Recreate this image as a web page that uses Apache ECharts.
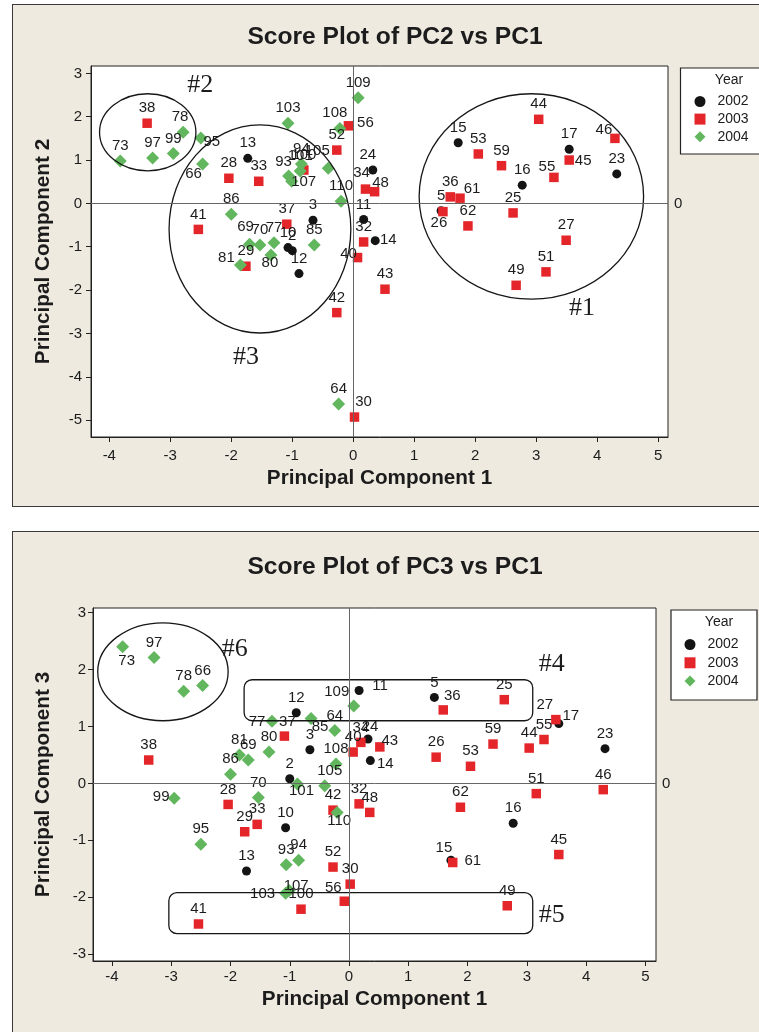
<!DOCTYPE html>
<html>
<head>
<meta charset="utf-8">
<script src="https://cdn.jsdelivr.net/npm/echarts@6/dist/echarts.min.js"></script>
<style>
html, body { margin: 0; padding: 0; background: #fff; }
#wrap { position: relative; width: 759px; height: 1032px; overflow: hidden; }
.panel { position: absolute; left: 12px; width: 760px; background: #eeeae0; border: 1.3px solid #3a3a3a; box-sizing: border-box; }
#main { position: absolute; left: 0; top: 0; width: 759px; height: 1032px; }
</style>
</head>
<body>
<div id="wrap">
  <div class="panel" style="top:4px; height:503px;"></div>
  <div class="panel" style="top:531px; height:520px;"></div>
  <div id="main"></div>
</div>
<script>
// scores per year: observation id, PC1, PC2, PC3
const ids2002 = [2, 3, 5, 10, 11, 12, 13, 14, 15, 16, 17, 23, 24];
const pc1_2002 = [-1.00, -0.66, 1.44, -1.07, 0.17, -0.89, -1.73, 0.36, 1.72, 2.77, 3.54, 4.32, 0.32];
const pc2_2002 = [-1.09, -0.39, -0.17, -1.02, -0.37, -1.62, 1.04, -0.86, 1.40, 0.42, 1.25, 0.68, 0.77];
const pc3_2002 = [0.08, 0.59, 1.51, -0.78, 1.63, 1.24, -1.54, 0.40, -1.35, -0.70, 1.05, 0.61, 0.78];

const ids2003 = [25, 26, 27, 28, 29, 30, 32, 33, 34, 36, 37, 38, 40, 41, 42, 43, 44, 45, 46, 48, 49, 51, 52, 53, 55, 56, 59, 61, 62, 100];
const pc1_2003 = [2.62, 1.47, 3.49, -2.04, -1.76, 0.02, 0.17, -1.55, 0.20, 1.59, -1.09, -3.38, 0.07, -2.54, -0.27, 0.52, 3.04, 3.54, 4.29, 0.35, 2.67, 3.16, -0.27, 2.05, 3.29, -0.08, 2.43, 1.75, 1.88, -0.81];
const pc2_2003 = [-0.22, -0.19, -0.85, 0.58, -1.45, -4.93, -0.89, 0.51, 0.33, 0.15, -0.48, 1.85, -1.25, -0.60, -2.52, -1.98, 1.94, 1.00, 1.50, 0.27, -1.89, -1.58, 1.23, 1.14, 0.60, 1.79, 0.87, 0.12, -0.52, 0.77];
const pc3_2003 = [1.47, 0.46, 1.12, -0.37, -0.85, -1.77, -0.36, -0.72, 0.72, 1.29, 0.83, 0.41, 0.55, -2.47, -0.47, 0.64, 0.62, -1.25, -0.11, -0.51, -2.15, -0.18, -1.47, 0.30, 0.77, -2.07, 0.69, -1.39, -0.42, -2.21];

const ids2004 = [64, 66, 69, 70, 73, 77, 78, 80, 81, 85, 86, 93, 94, 95, 97, 99, 101, 103, 105, 107, 108, 109, 110];
const pc1_2004 = [-0.24, -2.47, -1.70, -1.53, -3.82, -1.30, -2.79, -1.35, -1.85, -0.64, -2.00, -1.06, -0.85, -2.50, -3.29, -2.95, -0.87, -1.07, -0.41, -1.01, -0.22, 0.08, -0.20];
const pc2_2004 = [-4.63, 0.91, -0.94, -0.96, 0.98, -0.91, 1.64, -1.19, -1.42, -0.96, -0.25, 0.63, 0.91, 1.51, 1.05, 1.15, 0.75, 1.85, 0.81, 0.51, 1.73, 2.44, 0.05];
const pc3_2004 = [0.93, 1.72, 0.41, -0.25, 2.40, 1.09, 1.62, 0.55, 0.50, 1.14, 0.16, -1.43, -1.35, -1.07, 2.21, -0.26, -0.01, -1.93, -0.04, -1.88, 0.34, 1.36, -0.51];

const years = ['2002', '2003', '2004'];
const tickValuesX = [-4, -3, -2, -1, 0, 1, 2, 3, 4, 5];
const tickValuesPC2 = [-5, -4, -3, -2, -1, 0, 1, 2, 3];
const tickValuesPC3 = [-3, -2, -1, 0, 1, 2, 3];

// circled / boxed groups drawn over the plots, in data units
const ellipsesPC2 = [[-3.37, 1.64, 0.79, 0.89], [-1.53, -0.59, 1.49, 2.40], [2.92, 0.16, 1.84, 2.37]];
const tagTextPC2 = ['#2', '#3', '#1'];
const tagPosPC2 = [[-2.51, 2.73], [-1.76, -3.55], [3.75, -2.42]];
const ellipsesPC3 = [[-3.14, 1.96, 1.10, 0.86]];
const boxesPC3 = [[-1.77, 1.82, 3.10, 1.10], [-3.04, -1.92, 3.10, -2.64]];
const tagTextPC3 = ['#4', '#5', '#6'];
const tagPosPC3 = [[3.42, 2.09], [3.42, -2.31], [-1.93, 2.35]];

// label nudges (px) where the labels were moved off the default spot
const DEFAULT_SHIFT = [0, -15];
const shiftPC2 = {
  95: [11, 4], 66: [-9, 10], 56: [17, -3], 105: [-11, -17], 107: [12, 1], 48: [6, -9],
  34: [-4, -16], 14: [13, -1], 40: [-9, -4], 80: [-1, 8], 81: [-14, -7], 30: [9, -15],
  45: [14, 1], 46: [-11, -9], 61: [12, -9], 26: [-4, 11], 55: [-7, -11], 108: [-5, -16],
  93: [-5, -14], 24: [-5, -15], 78: [-3, -15], 69: [-4, -17]
};
const shiftPC3 = {
  73: [4, 14], 99: [-13, -1], 77: [-15, 1], 37: [3, -14], 85: [9, 8], 109: [-17, -14],
  11: [21, -5], 43: [10, -6], 14: [15, 3], 101: [4, 7], 105: [5, -15], 110: [2, 8],
  24: [2, -12], 56: [-11, -13], 107: [7, -5], 103: [-23, 1], 36: [9, -14], 27: [-11, -15],
  17: [12, -8], 15: [-7, -12], 61: [20, -2]
};

const FONT = 'Liberation Sans';
const INK = '#1c1c1c';

const groups = [
  { name: '2002', ids: ids2002, pc1: pc1_2002, pc2: pc2_2002, pc3: pc3_2002, symbol: 'circle', size: 9, color: '#141414' },
  { name: '2003', ids: ids2003, pc1: pc1_2003, pc2: pc2_2003, pc3: pc3_2003, symbol: 'rect', size: 9.5, color: '#e4262b' },
  { name: '2004', ids: ids2004, pc1: pc1_2004, pc2: pc2_2004, pc3: pc3_2004, symbol: 'diamond', size: 13, color: '#62b75e' }
];

function points(g, ys, shifts) {
  return g.ids.map((id, i) => ({
    name: String(id),
    value: [g.pc1[i], ys[i]],
    label: { offset: shifts[id] || DEFAULT_SHIFT }
  }));
}

function scatterSeries(g, gridIdx, ys, shifts) {
  return {
    type: 'scatter', name: g.name, xAxisIndex: gridIdx, yAxisIndex: gridIdx,
    symbol: g.symbol, symbolSize: g.size, z: 3, silent: true,
    itemStyle: { color: g.color, opacity: 1 },
    label: { show: true, position: 'inside', formatter: '{b}', fontFamily: FONT, fontSize: 15, color: INK },
    emphasis: { disabled: true },
    data: points(g, ys, shifts)
  };
}

function refLines(gridIdx) {
  return {
    type: 'scatter', name: 'ref' + gridIdx, xAxisIndex: gridIdx, yAxisIndex: gridIdx, data: [], z: 1,
    markLine: {
      silent: true, symbol: ['none', 'none'], animation: false,
      lineStyle: { color: '#666', width: 1, type: 'solid' },
      label: { show: false },
      emphasis: { disabled: true },
      data: [
        { xAxis: 0 },
        { yAxis: 0, label: { show: true, position: 'end', formatter: '0', distance: 6, fontFamily: FONT, fontSize: 15, color: INK } }
      ]
    }
  };
}

function ellipseSeries(gridIdx, list) {
  return {
    type: 'custom', xAxisIndex: gridIdx, yAxisIndex: gridIdx, silent: true, z: 4,
    encode: { x: 0, y: 1 },
    data: list,
    renderItem: (params, api) => {
      const c = api.coord([api.value(0), api.value(1)]);
      const s = api.size([api.value(2), api.value(3)]);
      return {
        type: 'ellipse',
        shape: { cx: c[0], cy: c[1], rx: s[0], ry: s[1] },
        style: { fill: 'none', stroke: '#161616', lineWidth: 1.3 }
      };
    }
  };
}

function boxSeries(gridIdx, list) {
  return {
    type: 'custom', xAxisIndex: gridIdx, yAxisIndex: gridIdx, silent: true, z: 4,
    encode: { x: 0, y: 1 },
    data: list,
    renderItem: (params, api) => {
      const a = api.coord([api.value(0), api.value(1)]);
      const b = api.coord([api.value(2), api.value(3)]);
      return {
        type: 'rect',
        shape: { x: Math.min(a[0], b[0]), y: Math.min(a[1], b[1]), width: Math.abs(b[0] - a[0]), height: Math.abs(b[1] - a[1]), r: 8 },
        style: { fill: 'none', stroke: '#161616', lineWidth: 1.3 }
      };
    }
  };
}

function tagSeries(gridIdx, pos, texts) {
  return {
    type: 'custom', xAxisIndex: gridIdx, yAxisIndex: gridIdx, silent: true, z: 4,
    encode: { x: 0, y: 1 },
    data: pos,
    renderItem: (params, api) => {
      const p = api.coord([api.value(0), api.value(1)]);
      return {
        type: 'text', x: p[0], y: p[1],
        style: { text: texts[params.dataIndex], font: '26px "Liberation Serif"', fill: INK, align: 'center', verticalAlign: 'middle' }
      };
    }
  };
}

function axis(gridIdx, min, max, ticks, name, nameGap, margin) {
  return {
    type: 'value', gridIndex: gridIdx, min: min, max: max,
    name: name, nameLocation: 'middle', nameGap: nameGap,
    nameTextStyle: { fontFamily: FONT, fontWeight: 'bold', fontSize: 20.7, color: INK },
    axisLine: { show: true, onZero: false, lineStyle: { color: '#222', width: 1 } },
    axisTick: { show: true, inside: false, length: 5, customValues: ticks, lineStyle: { color: '#222' } },
    axisLabel: { customValues: ticks, margin: margin, fontFamily: FONT, fontSize: 15, color: INK },
    splitLine: { show: false }
  };
}

function legendAt(left, top, gap) {
  return {
    left: left, top: top, orient: 'vertical', selectedMode: false,
    itemWidth: 11, itemHeight: 11, itemGap: gap,
    data: years,
    textStyle: { fontFamily: FONT, fontSize: 14, color: INK, padding: [0, 0, 0, 7] }
  };
}

const series = [refLines(0), refLines(1)];
groups.forEach(g => series.push(scatterSeries(g, 0, g.pc2, shiftPC2)));
groups.forEach(g => series.push(scatterSeries(g, 1, g.pc3, shiftPC3)));
series.push(ellipseSeries(0, ellipsesPC2), tagSeries(0, tagPosPC2, tagTextPC2));
series.push(ellipseSeries(1, ellipsesPC3), boxSeries(1, boxesPC3), tagSeries(1, tagPosPC3, tagTextPC3));

const option = {
  animation: false,
  backgroundColor: 'transparent',
  grid: [
    { left: 91, top: 66, width: 577, height: 371, show: true, backgroundColor: '#fff', borderColor: '#222', borderWidth: 1 },
    { left: 93, top: 608, width: 563, height: 353, show: true, backgroundColor: '#fff', borderColor: '#222', borderWidth: 1 }
  ],
  xAxis: [
    axis(0, -4.3, 5.16, tickValuesX, 'Principal Component 1', 31, 11),
    axis(1, -4.32, 5.18, tickValuesX, 'Principal Component 1', 28, 8)
  ],
  yAxis: [
    axis(0, -5.39, 3.17, tickValuesPC2, 'Principal Component 2', 37, 9),
    axis(1, -3.12, 3.08, tickValuesPC3, 'Principal Component 3', 39, 7)
  ],
  legend: [legendAt(689.5, 89.5, 3.6), legendAt(679.5, 632.5, 4.3)],
  graphic: [
    { type: 'rect', shape: { x: 680.5, y: 68, width: 90, height: 86 }, style: { fill: '#fff', stroke: '#222', lineWidth: 1.2 } },
    { type: 'rect', shape: { x: 671, y: 610, width: 86, height: 90 }, style: { fill: '#fff', stroke: '#222', lineWidth: 1.2 } },
    { type: 'text', x: 729, y: 80, style: { text: 'Year', font: '14px "Liberation Sans"', fill: INK, align: 'center', verticalAlign: 'middle' } },
    { type: 'text', x: 719, y: 622, style: { text: 'Year', font: '14px "Liberation Sans"', fill: INK, align: 'center', verticalAlign: 'middle' } },
    { type: 'text', x: 395, y: 37, style: { text: 'Score Plot of PC2 vs PC1', font: 'bold 24.6px "Liberation Sans"', fill: INK, align: 'center', verticalAlign: 'middle' } },
    { type: 'text', x: 395, y: 567, style: { text: 'Score Plot of PC3 vs PC1', font: 'bold 24.6px "Liberation Sans"', fill: INK, align: 'center', verticalAlign: 'middle' } }
  ],
  series: series
};

const chart = echarts.init(document.getElementById('main'), null, { renderer: 'canvas' });
chart.setOption(option);
</script>
</body>
</html>
